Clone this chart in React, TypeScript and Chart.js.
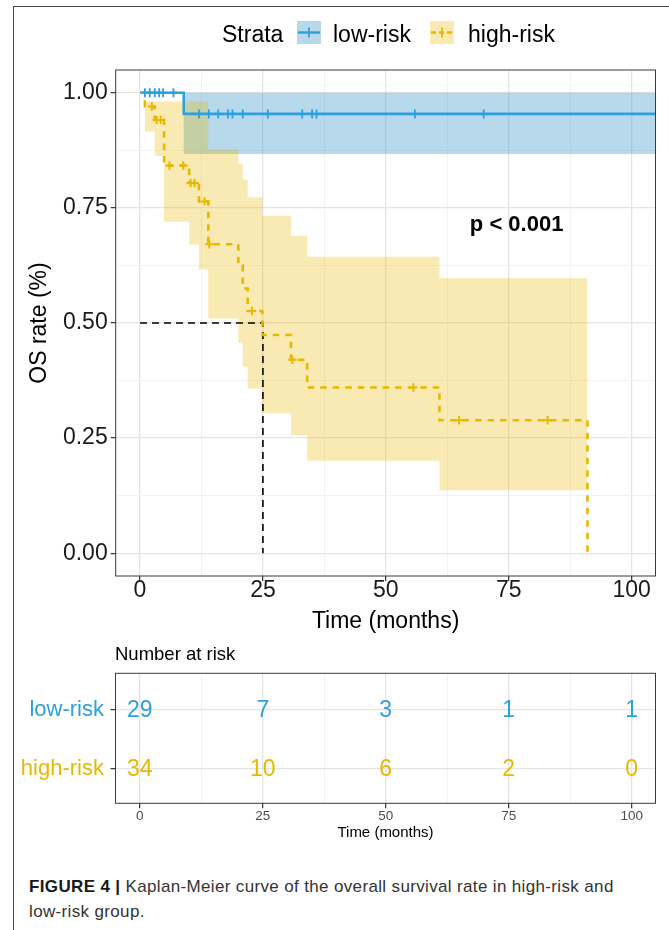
import React, { useEffect, useRef } from 'react';
import { Chart, registerables } from 'chart.js';

Chart.register(...registerables);

const FONT = "'Liberation Sans', Arial, Helvetica, sans-serif";
Chart.defaults.font.family = FONT;

// ---------- data ----------
const strataNames = ['low-risk', 'high-risk'];
const strataColors = ['#2E9FDF', '#E7B800'];
const bandColors = ['rgba(55,150,200,0.36)', 'rgba(231,184,0,0.3)'];

const lowTimes = [0, 8.9, 106];
const lowSurv = [1, 0.954, 0.954];
const lowUpper = [1, 1, 1];
const lowLower = [1, 0.867, 0.867];
const lowCensor = [1.0, 2.0, 3.0, 3.9, 4.7, 6.8, 12.0, 14.0, 15.9, 17.9, 18.8, 20.9, 26.0, 33.0, 35.0, 35.9, 55.9, 69.9];

const highTimes = [0, 1.0, 3.0, 4.9, 10.0, 12.0, 13.9, 20.0, 20.9, 21.9, 24.9, 30.7, 34.0, 60.9, 91.0];
const highSurv = [1, 0.97, 0.941, 0.842, 0.804, 0.764, 0.671, 0.626, 0.575, 0.526, 0.474, 0.42, 0.36, 0.289, 0];
const highUpper = [1, 0.981, 0.981, 0.981, 0.981, 0.981, 0.877, 0.846, 0.811, 0.773, 0.733, 0.689, 0.644, 0.597, 0.597];
const highLower = [1, 0.916, 0.863, 0.72, 0.67, 0.616, 0.51, 0.457, 0.405, 0.358, 0.304, 0.256, 0.201, 0.137, 0.137];
const highCensor = [2.4, 3.4, 4.2, 6.0, 8.8, 10.3, 11.1, 13.1, 14.1, 22.8, 31.0, 55.6, 64.9, 82.9];

const medianTime = 25;
const medianSurv = 0.5;

const pValueText = 'p < 0.001';
const pValueX = 76.6;
const pValueY = 0.712;

const xMajorTicks = [0, 25, 50, 75, 100];
const xMinorTicks = [12.5, 37.5, 62.5, 87.5];
const yMajorTicks = [0, 0.25, 0.5, 0.75, 1];
const yMinorTicks = [0.125, 0.375, 0.625, 0.875];

const riskTimes = [0, 25, 50, 75, 100];
const lowAtRisk = [29, 7, 3, 1, 1];
const highAtRisk = [34, 10, 6, 2, 0];

// axis ranges
const X_MIN = -4.94;
const X_MAX = 104.84;
const Y_MIN = -0.0493;
const Y_MAX = 1.0493;

// ---------- helpers ----------
const pts = (xs: number[], ys: number[]) => xs.map((x, i) => ({ x, y: ys[i] }));
const survAt = (times: number[], surv: number[], t: number) => {
  let v = surv[0];
  for (let i = 0; i < times.length; i++) if (times[i] <= t) v = surv[i];
  return v;
};
const gridTicks = (major: number[], minor: number[]) =>
  [...major, ...minor].sort((a, b) => a - b).map((value) => ({ value }));

const gridColor = (major: number[]) => (c: any) =>
  c.tick && major.includes(c.tick.value) ? '#E4E4E4' : '#EFEFEF';
const gridWidth = (major: number[]) => (c: any) =>
  c.tick && major.includes(c.tick.value) ? 1.3 : 0.8;
const tickColor = (major: number[]) => (c: any) =>
  c.tick && major.includes(c.tick.value) ? '#333333' : 'rgba(0,0,0,0)';

// ---------- main chart ----------
const W = 669;
const MAIN_H = 640;
const TABLE_H = 205;

const mainPlugin = {
  id: 'kmDecor',
  afterDraw(chart: any) {
    const { ctx, chartArea: a, scales } = chart;
    ctx.save();
    // panel border
    ctx.strokeStyle = '#3a3a3a';
    ctx.lineWidth = 1;
    ctx.strokeRect(a.left, a.top, a.right - a.left, a.bottom - a.top);
    // p value
    ctx.font = `bold 22px ${FONT}`;
    ctx.fillStyle = '#000';
    ctx.textAlign = 'center';
    ctx.textBaseline = 'middle';
    ctx.fillText(pValueText, scales.x.getPixelForValue(pValueX), scales.y.getPixelForValue(pValueY));
    // legend
    ctx.font = `23px ${FONT}`;
    ctx.textAlign = 'left';
    ctx.textBaseline = 'alphabetic';
    ctx.fillStyle = '#000';
    ctx.fillText('Strata', 222, 41.7);
    const boxX = [297, 430];
    const textX = [333, 468];
    strataNames.forEach((name, i) => {
      const bx = boxX[i];
      ctx.fillStyle = bandColors[i];
      ctx.fillRect(bx, 21, 24, 23);
      ctx.strokeStyle = strataColors[i];
      ctx.lineWidth = 2.4;
      ctx.setLineDash(i === 1 ? [5, 3] : []);
      ctx.beginPath();
      ctx.moveTo(bx + 1, 32.5);
      ctx.lineTo(bx + 23, 32.5);
      ctx.stroke();
      ctx.setLineDash([]);
      ctx.lineWidth = 1.8;
      ctx.beginPath();
      ctx.moveTo(bx + 12, 27.5);
      ctx.lineTo(bx + 12, 37.5);
      ctx.stroke();
      ctx.fillStyle = '#000';
      ctx.fillText(name, textX[i], 41.7);
    });
    ctx.restore();
  },
};

function mainConfig(): any {
  const bandBase = { borderWidth: 0, pointRadius: 0, stepped: 'before', tension: 0 };
  return {
    type: 'line',
    data: {
      datasets: [
        { ...bandBase, data: pts(lowTimes, lowUpper), fill: false, order: 10 },
        { ...bandBase, data: pts(lowTimes, lowLower), fill: '-1', backgroundColor: bandColors[0], order: 10 },
        { ...bandBase, data: pts(highTimes, highUpper), fill: false, order: 9 },
        { ...bandBase, data: pts(highTimes, highLower), fill: '-1', backgroundColor: bandColors[1], order: 9 },
        {
          data: [
            { x: 0, y: medianSurv },
            { x: medianTime, y: medianSurv },
            { x: medianTime, y: 0 },
          ],
          borderColor: '#000',
          borderWidth: 1.6,
          borderDash: [7, 5],
          pointRadius: 0,
          fill: false,
          order: 6,
        },
        {
          data: pts(lowTimes, lowSurv),
          stepped: 'before',
          borderColor: strataColors[0],
          borderWidth: 2.6,
          pointRadius: 0,
          fill: false,
          order: 5,
        },
        {
          data: pts(highTimes, highSurv),
          stepped: 'before',
          borderColor: strataColors[1],
          borderWidth: 2.6,
          borderDash: [6.5, 6],
          pointRadius: 0,
          fill: false,
          order: 4,
        },
        {
          data: lowCensor.map((t) => ({ x: t, y: survAt(lowTimes, lowSurv, t) })),
          showLine: false,
          pointStyle: 'cross',
          pointRadius: 4.5,
          pointBorderWidth: 1.8,
          pointBorderColor: strataColors[0],
          order: 3,
        },
        {
          data: highCensor.map((t) => ({ x: t, y: survAt(highTimes, highSurv, t) })),
          showLine: false,
          pointStyle: 'cross',
          pointRadius: 4.2,
          pointBorderWidth: 2,
          pointBorderColor: strataColors[1],
          order: 2,
        },
      ],
    },
    options: {
      animation: false,
      responsive: false,
      maintainAspectRatio: false,
      events: [],
      layout: { padding: { top: 70, right: W - 655.5, left: 0, bottom: 0 } },
      plugins: { legend: { display: false }, tooltip: { enabled: false } },
      scales: {
        x: {
          type: 'linear',
          min: X_MIN,
          max: X_MAX,
          afterBuildTicks: (s: any) => {
            s.ticks = gridTicks(xMajorTicks, xMinorTicks);
          },
          ticks: {
            callback: (v: number) => (xMajorTicks.includes(v) ? String(v) : ''),
            font: { size: 23 },
            color: '#1a1a1a',
            padding: -4.5,
            autoSkip: false,
            maxRotation: 0,
          },
          grid: {
            color: gridColor(xMajorTicks),
            lineWidth: gridWidth(xMajorTicks),
            tickLength: 5,
            tickColor: tickColor(xMajorTicks),
            tickWidth: 1.2,
          },
          border: { display: false },
          title: {
            display: true,
            text: 'Time (months)',
            font: { size: 23 },
            color: '#000',
            padding: { top: 0, bottom: 5 },
          },
          afterFit: (s: any) => {
            s.height = MAIN_H - 576;
          },
        },
        y: {
          type: 'linear',
          min: Y_MIN,
          max: Y_MAX,
          afterBuildTicks: (s: any) => {
            s.ticks = gridTicks(yMajorTicks, yMinorTicks);
          },
          ticks: {
            callback: (v: number) => (yMajorTicks.includes(v) ? v.toFixed(2) : ''),
            font: { size: 23 },
            color: '#1a1a1a',
            padding: 3,
            autoSkip: false,
          },
          grid: {
            color: gridColor(yMajorTicks),
            lineWidth: gridWidth(yMajorTicks),
            tickLength: 5,
            tickColor: tickColor(yMajorTicks),
            tickWidth: 1.2,
          },
          border: { display: false },
          title: {
            display: true,
            text: 'OS rate (%)',
            font: { size: 23 },
            color: '#000',
            padding: { top: 26, bottom: 0 },
          },
          afterFit: (s: any) => {
            s.width = 115.7;
          },
        },
      },
    },
    plugins: [mainPlugin],
  };
}

// ---------- risk table ----------
const rowValue = (i: number) => strataNames.length - i;

const tablePlugin = {
  id: 'riskTable',
  afterDraw(chart: any) {
    const { ctx, chartArea: a } = chart;
    ctx.save();
    ctx.strokeStyle = '#3a3a3a';
    ctx.lineWidth = 1;
    ctx.strokeRect(a.left, a.top, a.right - a.left, a.bottom - a.top);
    ctx.font = `18.5px ${FONT}`;
    ctx.fillStyle = '#000';
    ctx.textAlign = 'left';
    ctx.textBaseline = 'alphabetic';
    ctx.fillText('Number at risk', 115, 20);
    ctx.font = `23px ${FONT}`;
    ctx.textAlign = 'center';
    ctx.textBaseline = 'middle';
    chart.data.datasets.forEach((ds: any, i: number) => {
      const meta = chart.getDatasetMeta(i);
      ctx.fillStyle = strataColors[i];
      meta.data.forEach((el: any, j: number) => {
        ctx.fillText(String(ds.counts[j]), el.x, el.y + 1);
      });
    });
    ctx.restore();
  },
};

function tableConfig(): any {
  const counts = [lowAtRisk, highAtRisk];
  return {
    type: 'line',
    data: {
      datasets: strataNames.map((name, i) => ({
        label: name,
        counts: counts[i],
        data: riskTimes.map((t) => ({ x: t, y: rowValue(i) })),
        showLine: false,
        pointRadius: 0,
      })),
    },
    options: {
      animation: false,
      responsive: false,
      maintainAspectRatio: false,
      events: [],
      layout: { padding: { top: 33.3, right: W - 655.5, left: 0, bottom: 0 } },
      plugins: { legend: { display: false }, tooltip: { enabled: false } },
      scales: {
        x: {
          type: 'linear',
          min: X_MIN,
          max: X_MAX,
          afterBuildTicks: (s: any) => {
            s.ticks = gridTicks(xMajorTicks, xMinorTicks);
          },
          ticks: {
            callback: (v: number) => (xMajorTicks.includes(v) ? String(v) : ''),
            font: { size: 13.5 },
            color: '#4d4d4d',
            padding: 0,
            autoSkip: false,
            maxRotation: 0,
          },
          grid: {
            color: gridColor(xMajorTicks),
            lineWidth: gridWidth(xMajorTicks),
            tickLength: 5,
            tickColor: tickColor(xMajorTicks),
            tickWidth: 1.2,
          },
          border: { display: false },
          title: {
            display: true,
            text: 'Time (months)',
            font: { size: 15 },
            color: '#000',
            padding: { top: 0, bottom: 3 },
          },
          afterFit: (s: any) => {
            s.height = TABLE_H - 163.3;
          },
        },
        y: {
          type: 'linear',
          min: 0.42,
          max: 2.62,
          afterBuildTicks: (s: any) => {
            s.ticks = strataNames.map((_, i) => ({ value: rowValue(i) })).reverse();
          },
          ticks: {
            callback: (v: number) => strataNames[strataNames.length - v] ?? '',
            color: (c: any) => (c.tick ? strataColors[strataNames.length - c.tick.value] : '#000'),
            font: { size: 22 },
            padding: 6.5,
            autoSkip: false,
          },
          grid: {
            color: '#E4E4E4',
            lineWidth: 1.3,
            tickLength: 5,
            tickColor: '#333333',
            tickWidth: 1.2,
          },
          border: { display: false },
          afterFit: (s: any) => {
            s.width = 115.5;
          },
        },
      },
    },
    plugins: [tablePlugin],
  };
}

function ChartCanvas({ make, top, height }: { make: () => any; top: number; height: number }) {
  const ref = useRef<HTMLCanvasElement | null>(null);
  useEffect(() => {
    if (!ref.current) return;
    const chart = new Chart(ref.current, make());
    return () => chart.destroy();
  }, []);
  return (
    <canvas
      ref={ref}
      width={W}
      height={height}
      style={{ position: 'absolute', left: 0, top, width: W, height, display: 'block' }}
    />
  );
}

export default function App() {
  return (
    <div
      style={{
        position: 'fixed',
        left: 0,
        top: 0,
        width: W,
        height: 930,
        overflow: 'hidden',
        background: '#fff',
      }}
    >
      <div
        style={{
          position: 'absolute',
          left: 13,
          top: 6,
          width: 800,
          height: 1200,
          borderLeft: '1px solid #4a4a4a',
          borderTop: '1px solid #4a4a4a',
        }}
      />
      <ChartCanvas make={mainConfig} top={0} height={MAIN_H} />
      <ChartCanvas make={tableConfig} top={MAIN_H} height={TABLE_H} />
      <div
        style={{
          position: 'absolute',
          left: 29,
          top: 874,
          fontFamily: FONT,
          fontSize: 17,
          lineHeight: '25px',
          color: '#333',
          letterSpacing: '0.35px',
          whiteSpace: 'nowrap',
        }}
      >
        <div>
          <b style={{ color: '#1a1a1a' }}>FIGURE 4 |</b> Kaplan-Meier curve of the overall survival rate in
          high-risk and
        </div>
        <div>low-risk group.</div>
      </div>
    </div>
  );
}
